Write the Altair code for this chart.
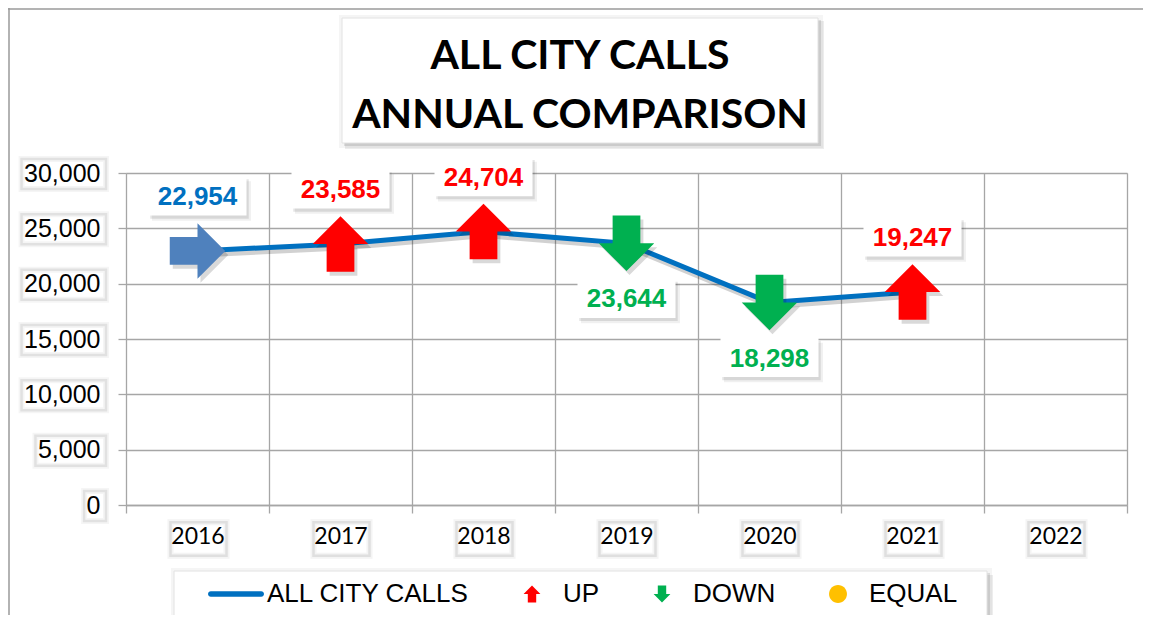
import altair as alt
import pandas as pd

# ---------------- data ----------------
years = ["2016", "2017", "2018", "2019", "2020", "2021", "2022"]
data_years = ["2016", "2017", "2018", "2019", "2020", "2021"]
calls = [22954, 23585, 24704, 23644, 18298, 19247]
series_name = "ALL CITY CALLS"
legend_keys = ["ALL CITY CALLS", "UP", "DOWN", "EQUAL"]
y_ticks = [0, 5000, 10000, 15000, 20000, 25000, 30000]
title_lines = ["ALL CITY CALLS", "ANNUAL COMPARISON"]

# direction of change relative to the previous year
dirs = []
for i, v in enumerate(calls):
    if i == 0:
        dirs.append("START")
    elif v > calls[i - 1]:
        dirs.append("UP")
    elif v < calls[i - 1]:
        dirs.append("DOWN")
    else:
        dirs.append("EQUAL")

df = pd.DataFrame({"year": data_years, "calls": calls, "dir": dirs})
df["tkey"] = [series_name if d == "START" else d for d in dirs]
df["label"] = [f"{v:,}" for v in calls]
legend_df = pd.DataFrame({"key": legend_keys})
ytick_df = pd.DataFrame({"v": y_ticks})
year_df = pd.DataFrame({"year": years})

# ---------------- styles ----------------
key_domain = ["ALL CITY CALLS", "UP", "DOWN", "EQUAL", "START"]
color_range = ["#0070C0", "#FF0000", "#00B050", "#FFC000", "#4F81BD"]
UP = "M0,-1L1,0L0.5,0L0.5,1L-0.5,1L-0.5,0L-1,0Z"
DOWN = "M0,1L1,0L0.5,0L0.5,-1L-0.5,-1L-0.5,0L-1,0Z"
RIGHT = "M1,0L0,-1L0,-0.5L-1,-0.5L-1,0.5L0,0.5L0,1Z"
BOX = "M-1,-0.4L1,-0.4L1,0.4L-1,0.4Z"
XBOX = "M-1,-0.6L1,-0.6L1,0.6L-1,0.6Z"
# legend glyphs (drawn inside a common 56px symbol slot)
L_BAR = "M-0.9,-0.1L0.9,-0.1A0.1,0.1 0 0 1 0.9,0.1L-0.9,0.1A0.1,0.1 0 0 1 -0.9,-0.1Z"
L_UP = "M0,-0.3L0.3,0L0.15,0L0.15,0.3L-0.15,0.3L-0.15,0L-0.3,0Z"
L_DOWN = "M0,0.3L0.3,0L0.15,0L0.15,-0.3L-0.15,-0.3L-0.15,0L-0.3,0Z"
L_DOT = "M0.32,0A0.32,0.32 0 1 1 -0.32,0A0.32,0.32 0 1 1 0.32,0Z"

cscale = alt.Scale(domain=key_domain, range=color_range)
sscale = alt.Scale(domain=key_domain, range=["circle", UP, DOWN, "circle", RIGHT])
xscale = alt.Scale(domain=years, paddingInner=0, paddingOuter=0)
yscale = alt.Scale(domain=[0, 30000], nice=False)

GRID = "#a6a6a6"

xaxis = alt.Axis(
    title=None, tickBand="extent", grid=True, gridColor=GRID, gridWidth=1.3,
    domainColor=GRID, domainWidth=1.3, tickColor=GRID, tickSize=8, tickWidth=1.3,
    labelFont="Lato", labelFontSize=23, labelColor="black", labelPadding=12,
    labelAngle=0,
)
yaxis = alt.Axis(
    title=None, values=y_ticks, format=",d", grid=True, gridColor=GRID,
    gridWidth=1.3, domain=False, tickColor=GRID, tickSize=8, tickWidth=1.3,
    labelFont="Liberation Sans", labelFontSize=25, labelColor="black",
    labelPadding=18,
)
xenc = alt.X("year:N", scale=xscale, axis=xaxis)
yenc = alt.Y("calls:Q", scale=yscale, axis=yaxis)

base = alt.Chart(df)
one = alt.Data(values=[{}])


def box(x1, y1, x2, y2, fill="white", opacity=1.0, stroke=None):
    kw = dict(fill=fill, opacity=opacity)
    if stroke:
        kw.update(stroke=stroke, strokeWidth=1)
    return alt.Chart(one).mark_rect(**kw).encode(
        x=alt.value(x1), x2=alt.value(x2), y=alt.value(y1), y2=alt.value(y2)
    )


# decorations: outer frame, title box, legend box (with soft shadows)
frame_top = alt.Chart(one).mark_rule(color="#9a9a9a", strokeWidth=1.5).encode(
    x=alt.value(-118), x2=alt.value(1017), y=alt.value(-164)
)
frame_left = alt.Chart(one).mark_rule(color="#9a9a9a", strokeWidth=1.5).encode(
    x=alt.value(-117), y=alt.value(-165), y2=alt.value(450)
)

title_shadow0 = box(213, -158, 697, -25, fill="black", opacity=0.04)
title_shadow1 = box(219, -152, 698, -24, fill="black", opacity=0.07)
title_shadow2 = box(218, -153, 695, -27, fill="black", opacity=0.10)
title_box = box(216, -155, 692, -30, stroke="#e2e2e2")
title_text = alt.Chart(one).mark_text(
    text=title_lines, font="Lato", fontSize=41, fontWeight="bold", color="black",
    align="center", baseline="alphabetic", lineHeight=59,
).encode(x=alt.value(454), y=alt.value(-104))

legend_shadow0 = box(45, 395, 866, 449, fill="black", opacity=0.04)
legend_shadow1 = box(52, 402, 867, 450, fill="black", opacity=0.07)
legend_shadow2 = box(50, 400, 864, 447, fill="black", opacity=0.10)
legend_box = box(48, 398, 861, 444, stroke="#e2e2e2")


# soft glow boxes around the tick labels
def ylab_glow(width, opacity, dx, dy):
    return alt.Chart(ytick_df).transform_calculate(
        lab="format(datum.v, ',d')",
        nd="length(replace(datum.lab, ',', ''))",
    ).transform_calculate(
        xl="-23 - (datum.nd * 13.9 + (length(datum.lab) - datum.nd) * 6.95 + 6)"
    ).mark_rect(
        fillOpacity=0, stroke="black", strokeOpacity=opacity, strokeWidth=width,
        xOffset=dx, x2Offset=dx, yOffset=-15 + dy, y2Offset=15 + dy,
    ).encode(
        x=alt.X("xl:Q", scale=None), x2=alt.value(-22 + dx),
        y=alt.Y("v:Q", scale=yscale, axis=yaxis), y2="v:Q",
    )


def xlab_glow(width, opacity, dx, dy):
    return alt.Chart(year_df).mark_point(
        shape=XBOX, size=3136, filled=False, color="black", opacity=opacity,
        strokeWidth=width, xOffset=dx, yOffset=dy,
    ).encode(x=alt.X("year:N", scale=xscale, axis=xaxis), y=alt.value(365))


glows = [ylab_glow(6, 0.04, 1, 1), ylab_glow(2.5, 0.08, 1, 1),
         xlab_glow(6, 0.04, 1, 1), xlab_glow(2.5, 0.08, 1, 1)]

# legend carrier (points drawn off-canvas, only its legend is visible)
leg = alt.Legend(
    title=None, orient="none", legendX=82, legendY=393,
    direction="horizontal", columns=4, columnPadding=34,
    labelFont="Liberation Sans", labelFontSize=26, labelLimit=400,
    labelColor="black", labelOffset=3, symbolStrokeWidth=0,
    symbolSize=3136, symbolOpacity=1, padding=0,
)
lscale_c = alt.Scale(domain=legend_keys, range=color_range[:4])
lscale_s = alt.Scale(domain=legend_keys, range=[L_BAR, L_UP, L_DOWN, L_DOT])
legend_layer = alt.Chart(legend_df).mark_point(filled=True, size=3136).encode(
    x=alt.value(-3000), y=alt.value(-3000),
    color=alt.Color("key:N", scale=lscale_c, legend=leg),
    shape=alt.Shape("key:N", scale=lscale_s, legend=leg),
)

line_shadow = base.mark_line(color="black", opacity=0.18, strokeWidth=5, xOffset=2, yOffset=4).encode(
    x=xenc, y=yenc
)
line = base.mark_line(strokeWidth=5, color="#0070C0").encode(x=xenc, y=yenc)

arrow_shadow = base.mark_point(filled=True, size=3080, color="black", opacity=0.15, xOffset=3, yOffset=4).encode(
    x=xenc, y=yenc, shape=alt.Shape("dir:N", scale=sscale, legend=None),
)
arrows = base.mark_point(filled=True, size=3080, opacity=1).encode(
    x=xenc, y=yenc,
    color=alt.Color("dir:N", scale=cscale, legend=None),
    shape=alt.Shape("dir:N", scale=sscale, legend=None),
)


def label_layers(filter_expr, off):
    src = base.transform_filter(filter_expr)
    sh1 = src.mark_point(filled=True, shape=BOX, size=9800, color="black", opacity=0.06,
                         xOffset=4, yOffset=off + 5).encode(x=xenc, y=yenc)
    sh2 = src.mark_point(filled=True, shape=BOX, size=9700, color="black", opacity=0.10,
                         xOffset=2, yOffset=off + 3).encode(x=xenc, y=yenc)
    bx = src.mark_point(filled=True, shape=BOX, size=9604, color="white", opacity=1,
                        yOffset=off).encode(x=xenc, y=yenc)
    tx = src.mark_text(font="Liberation Sans", fontSize=26, fontWeight="bold",
                       baseline="middle", yOffset=off + 1).encode(
        x=xenc, y=yenc, text="label:N",
        color=alt.Color("tkey:N", scale=cscale, legend=None),
    )
    return [sh1, sh2, bx, tx]


above = label_layers("datum.dir !== 'DOWN'", -55)
below = label_layers("datum.dir === 'DOWN'", 55)

chart = alt.layer(
    frame_top, frame_left,
    title_shadow0, title_shadow1, title_shadow2, title_box, title_text,
    legend_shadow0, legend_shadow1, legend_shadow2, legend_box, legend_layer,
    *glows,
    line_shadow, line, arrow_shadow, arrows,
    *above, *below,
).resolve_scale(
    color="independent", shape="independent"
).properties(
    width=1001, height=332,
    padding={"left": 118, "top": 165, "right": 16, "bottom": 110},
    autosize=alt.AutoSizeParams(type="none"),
).configure_view(strokeWidth=0).configure(background="white")

chart.save("out.html", embed_options={"renderer": "svg", "actions": False})
